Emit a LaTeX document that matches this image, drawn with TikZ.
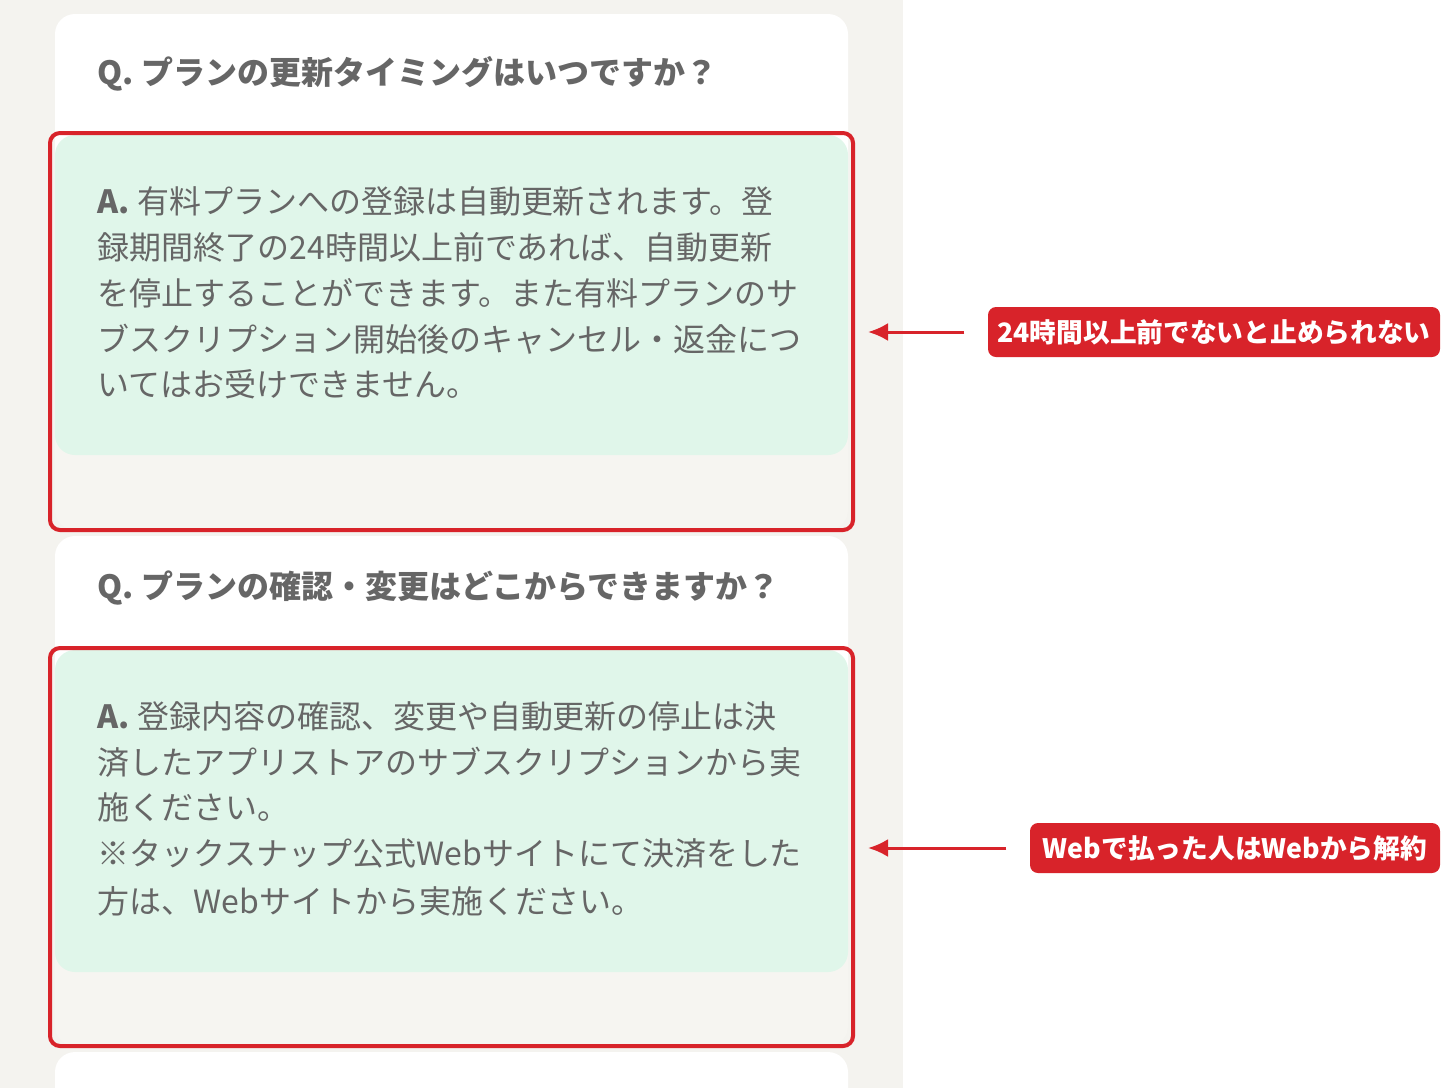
\documentclass[tikz,border=0pt]{standalone}
\usepackage{fontspec}
\setmainfont{Noto Sans CJK JP}
\usepackage{tikz}
\usetikzlibrary{arrows.meta}
\definecolor{bgpanel}{HTML}{F4F3EF}
\definecolor{cardlow}{HTML}{F6F5F1}
\definecolor{answergreen}{HTML}{E0F6EA}
\definecolor{markred}{HTML}{D8232A}
\definecolor{textgray}{HTML}{666666}
\tikzset{
  card/.style={fill=white, rounded corners=0.2cm},
  answer/.style={fill=answergreen, rounded corners=0.2cm},
  frame/.style={draw=markred, line width=0.04cm, rounded corners=0.1cm},
  qline/.style={anchor=base west, inner sep=0pt, text=textgray, font=\fontsize{9.1pt}{9.1pt}\selectfont\bfseries},
  aline/.style={anchor=base west, inner sep=0pt, text=textgray, font=\fontsize{9.1pt}{9.1pt}\selectfont},
  tag/.style={fill=markred, text=white, rounded corners=0.08cm, inner sep=0pt, minimum height=0.5cm, font=\fontsize{7.6pt}{7.6pt}\selectfont\bfseries},
  pointer/.style={draw=markred, line width=0.03cm, -{Latex[length=0.2cm,width=0.18cm]}}
}
\begin{document}
\begin{tikzpicture}
\useasboundingbox (0,0) rectangle (14.56,-10.88);
\fill[bgpanel] (0,0) rectangle (9.03,-10.88);

% first question
\fill[card] (0.55,-0.14) rectangle (8.48,-4.0);
\fill[cardlow, rounded corners=0.2cm] (0.55,-3.0) rectangle (8.48,-5.3);
\fill[answer] (0.55,-1.35) rectangle (8.48,-4.55);
\draw[frame] (0.5,-1.33) rectangle (8.53,-5.3);
\node[qline] (q1) at (0.97,-0.84) {Q. プランの更新タイミングはいつですか？};
\node[aline] (a11) at (0.97,-2.13) {\textbf{A.} 有料プランへの登録は自動更新されます。登};
\node[aline] (a12) at (0.97,-2.59) {録期間終了の24時間以上前であれば、自動更新};
\node[aline] (a13) at (0.97,-3.05) {を停止することができます。また有料プランのサ};
\node[aline] (a14) at (0.97,-3.51) {ブスクリプション開始後のキャンセル・返金につ};
\node[aline] (a15) at (0.97,-3.96) {いてはお受けできません。};

% second question
\fill[card] (0.55,-5.36) rectangle (8.48,-9.0);
\fill[cardlow, rounded corners=0.2cm] (0.55,-8.0) rectangle (8.48,-10.46);
\fill[answer] (0.55,-6.5) rectangle (8.48,-9.72);
\draw[frame] (0.5,-6.48) rectangle (8.53,-10.46);
\node[qline] (q2) at (0.97,-5.98) {Q. プランの確認・変更はどこからできますか？};
\node[aline] (a21) at (0.97,-7.28) {\textbf{A.} 登録内容の確認、変更や自動更新の停止は決};
\node[aline] (a22) at (0.97,-7.74) {済したアプリストアのサブスクリプションから実};
\node[aline] (a23) at (0.97,-8.19) {施ください。};
\node[aline] (a24) at (0.97,-8.65) {※タックスナップ公式Webサイトにて決済をした};
\node[aline] (a25) at (0.97,-9.13) {方は、Webサイトから実施ください。};

\fill[card] (0.55,-10.52) rectangle (8.48,-11.2);

% notes
\node[tag, minimum width=4.52cm] (t1) at (12.14,-3.32) {24時間以上前でないと止められない};
\node[tag, minimum width=4.1cm] (t2) at (12.35,-8.48) {Webで払った人はWebから解約};
\coordinate (p1) at (8.68,-3.32);
\coordinate (p2) at (8.68,-8.48);
\draw[pointer] ([xshift=-0.23cm]t1.west) -- (p1);
\draw[pointer] ([xshift=-0.23cm]t2.west) -- (p2);
\end{tikzpicture}
\end{document}
